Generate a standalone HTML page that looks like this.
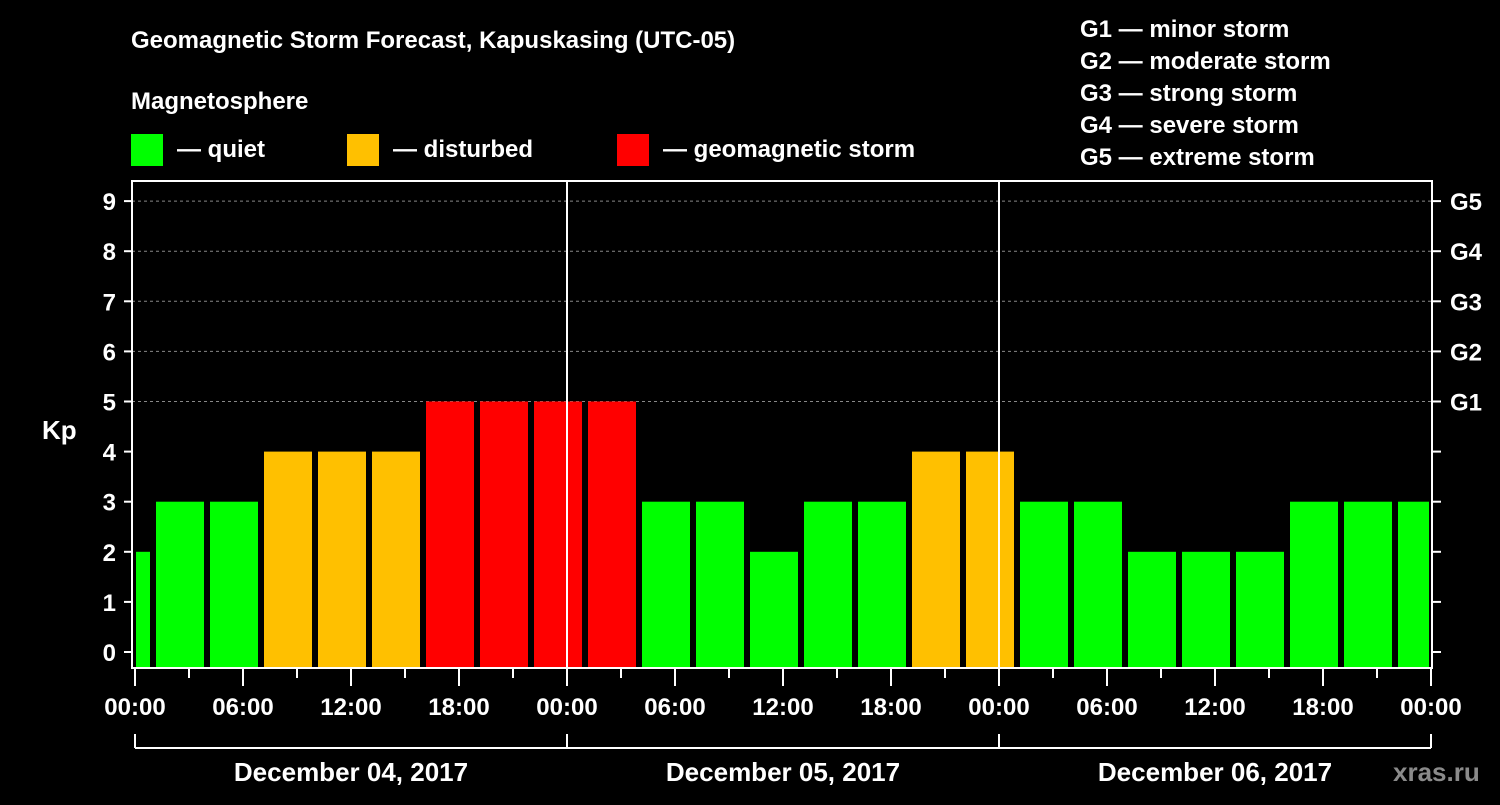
<!DOCTYPE html>
<html><head><meta charset="utf-8"><style>
body{margin:0;background:#000;width:1500px;height:800px;overflow:hidden}
svg text{font-family:"Liberation Sans",Arial,sans-serif;font-weight:bold;fill:#fff}
</style></head><body>
<svg id="c" width="1500" height="800" xmlns="http://www.w3.org/2000/svg">
<text x="131" y="48" font-size="24">Geomagnetic Storm Forecast, Kapuskasing (UTC-05)</text>
<text x="131" y="109" font-size="24">Magnetosphere</text>
<g><rect x="131" y="134" width="32" height="32" fill="#00ff00"/><text x="177" y="157" font-size="24">— quiet</text></g>
<g><rect x="347" y="134" width="32" height="32" fill="#ffc000"/><text x="393" y="157" font-size="24">— disturbed</text></g>
<g><rect x="617" y="134" width="32" height="32" fill="#ff0000"/><text x="663" y="157" font-size="24">— geomagnetic storm</text></g>
<g font-size="24">
<text x="1080" y="37">G1 — minor storm</text><text x="1080" y="69">G2 — moderate storm</text><text x="1080" y="101">G3 — strong storm</text><text x="1080" y="133">G4 — severe storm</text><text x="1080" y="165">G5 — extreme storm</text></g>
<text x="42" y="439" font-size="26">Kp</text>
<text x="1393" y="781" font-size="26" fill="#777" style="fill:#8a8a8a">xras.ru</text>
<g id="plot"></g>
</svg>
<script>
const kpValues=[2,3,3,4,4,4,5,5,5,5,3,3,2,3,3,4,4,3,3,2,2,2,3,3,3];
const yTicks=[0,1,2,3,4,5,6,7,8,9];
const gLabels=["G1","G2","G3","G4","G5"];
const xTickLabels=["00:00","06:00","12:00","18:00"];
const dayLabels=["December 04, 2017","December 05, 2017","December 06, 2017"];
const ns="http://www.w3.org/2000/svg";
const g=document.getElementById('plot');
const X0=135,PH=18,L=132,R=1432,T=181,B=668;
const x=h=>X0+h*PH;
const y=v=>652-v*50.1;
function mk(t,a,p){const e=document.createElementNS(ns,t);for(const k in a)e.setAttribute(k,a[k]);(p||g).appendChild(e);return e;}
// gridlines
yTicks.forEach(v=>{if(v>=5){const l=mk('line',{x1:L,x2:R,y1:y(v),y2:y(v),stroke:'#888','stroke-dasharray':'3,3','stroke-width':1});

}});
// bars
kpValues.forEach((v,i)=>{const s=-2+i*3;let a=x(s)+3,b=x(s+3)-3;a=Math.max(a,X0+1);b=Math.min(b,1429);
const col=v>=5?'#ff0000':v>=4?'#ffc000':'#00ff00';
const r=mk('rect',{x:a,y:y(v),width:b-a,height:B-y(v),fill:col});

});
// day separators
[1,2].forEach(d=>{const l=mk('line',{x1:x(d*24),x2:x(d*24),y1:T,y2:B,stroke:'#fff','stroke-width':2});

});
// frame
const f=mk('rect',{x:L,y:T,width:R-L,height:B-T,fill:'none',stroke:'#fff','stroke-width':2});


// y ticks
yTicks.forEach(v=>{mk('line',{x1:124,x2:L,y1:y(v),y2:y(v),stroke:'#fff','stroke-width':2});
mk('line',{x1:R,x2:1441,y1:y(v),y2:y(v),stroke:'#fff','stroke-width':2});
const t=mk('text',{x:116,y:y(v)+9,'font-size':24,'text-anchor':'end'});t.textContent=v;


if(v>=5){const gt=mk('text',{x:1450,y:y(v)+9,'font-size':24});gt.textContent=gLabels[v-5];

}});
// x ticks
for(let h=0;h<=72;h+=3){const lab=h%6==0;mk('line',{x1:x(h),x2:x(h),y1:B,y2:lab?686:678,stroke:'#fff','stroke-width':2});
if(lab){const t=mk('text',{x:x(h),y:715,'font-size':24,'text-anchor':'middle'});t.textContent=xTickLabels[(h/6)%4];

}}
// day bracket
mk('line',{x1:x(0),x2:x(72),y1:748,y2:748,stroke:'#fff','stroke-width':2});
for(let d=0;d<=3;d++)mk('line',{x1:x(d*24),x2:x(d*24),y1:734,y2:748,stroke:'#fff','stroke-width':2});
dayLabels.forEach((s,d)=>{const t=mk('text',{x:x(d*24+12),y:781,'font-size':26,'text-anchor':'middle'});t.textContent=s;

});
</script>
</body></html>
